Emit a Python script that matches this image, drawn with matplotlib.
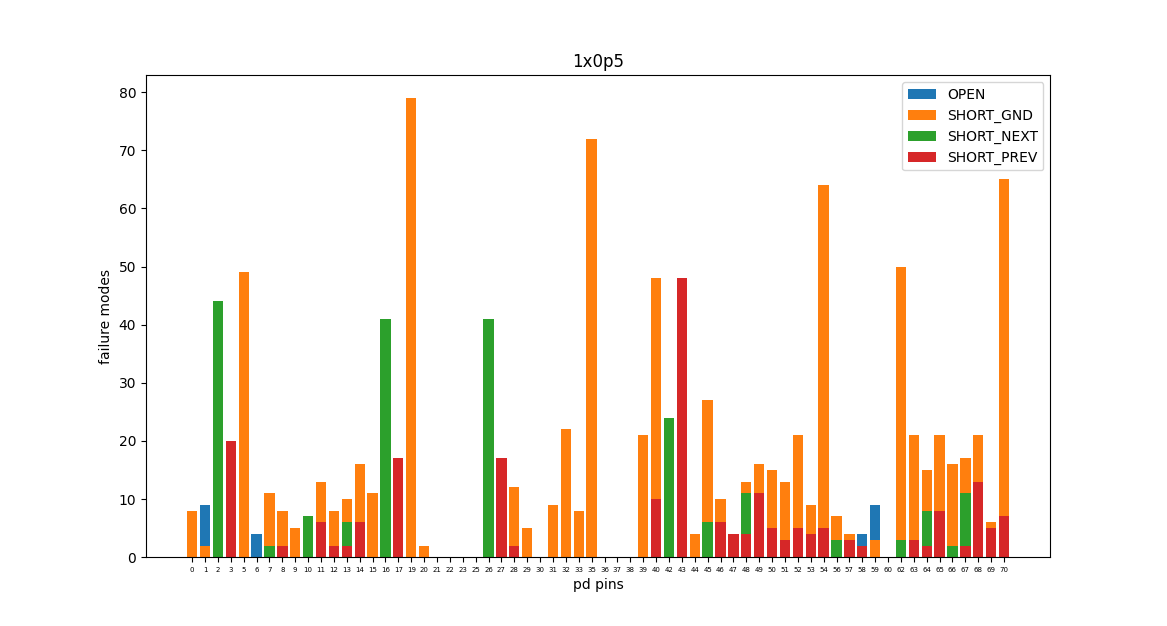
import matplotlib
matplotlib.use('Agg')
import matplotlib.pyplot as plt

pins = [0, 1, 2, 3, 5, 6, 7, 8, 9, 10, 11, 12, 13, 14, 15, 16, 17, 19, 20, 21,
        22, 23, 25, 26, 27, 28, 29, 30, 31, 32, 33, 35, 36, 37, 38, 39, 40, 42,
        43, 44, 45, 46, 47, 48, 49, 50, 51, 52, 53, 54, 56, 57, 58, 59, 60, 62,
        63, 64, 65, 66, 67, 68, 69, 70]

# failure counts per pin, one dict per mode
open_ = {1: 9, 6: 4, 58: 4, 59: 9}
short_gnd = {0: 8, 1: 2, 5: 49, 7: 11, 8: 8, 9: 5, 11: 13, 12: 8, 13: 10, 14: 16,
             15: 11, 19: 79, 20: 2, 28: 12, 29: 5, 31: 9, 32: 22, 33: 8, 35: 72,
             39: 21, 40: 48, 44: 4, 45: 27, 46: 10, 48: 13, 49: 16, 50: 15, 51: 13,
             52: 21, 53: 9, 54: 64, 56: 7, 57: 4, 59: 3, 62: 50, 63: 21, 64: 15,
             65: 21, 66: 16, 67: 17, 68: 21, 69: 6, 70: 65}
short_next = {2: 44, 7: 2, 10: 7, 13: 6, 16: 41, 26: 41, 42: 24, 45: 6, 48: 11,
              56: 3, 62: 3, 64: 8, 66: 2, 67: 11}
short_prev = {3: 20, 8: 2, 11: 6, 12: 2, 13: 2, 14: 6, 17: 17, 27: 17, 28: 2,
              40: 10, 43: 48, 46: 6, 47: 4, 48: 4, 49: 11, 50: 5, 51: 3, 52: 5,
              53: 4, 54: 5, 57: 3, 58: 2, 63: 3, 64: 2, 65: 8, 67: 2, 68: 13,
              69: 5, 70: 7}

modes = {'OPEN': open_, 'SHORT_GND': short_gnd,
         'SHORT_NEXT': short_next, 'SHORT_PREV': short_prev}

labels = [str(p) for p in pins]

plt.figure(figsize=(11.67, 6.26), dpi=100)
for name, counts in modes.items():
    plt.bar(labels, [counts.get(p, 0) for p in pins], label=name)

plt.title('1x0p5')
plt.xlabel('pd pins')
plt.ylabel('failure modes')
plt.xticks(fontsize=5)
plt.legend()
plt.savefig('out.png', dpi=100)
